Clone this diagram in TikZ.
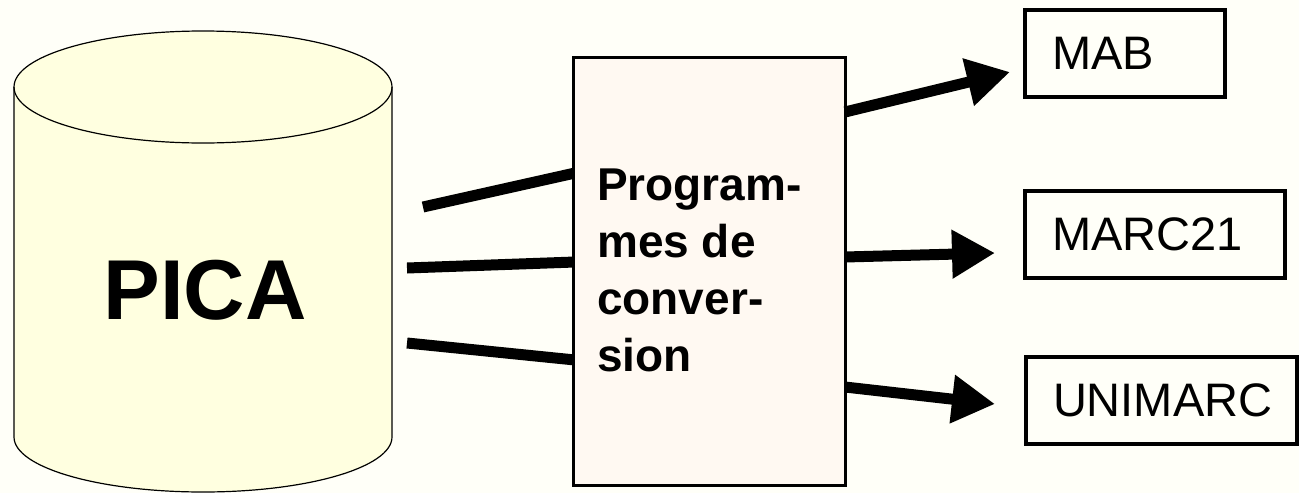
\documentclass[tikz,border=0pt]{standalone}
\usepackage{fontspec}
\setmainfont{Liberation Sans}
\usetikzlibrary{arrows.meta}
\definecolor{bgc}{RGB}{255,255,248}
\definecolor{cylc}{RGB}{255,255,224}
\definecolor{progc}{RGB}{255,249,242}
\tikzset{
  link/.style={line width=11pt},
  outarrow/.style={line width=11pt,-{Triangle[length=43pt,width=46pt]}},
  outbox/.style={draw=black,line width=3.5pt,fill=bgc,minimum height=87pt,inner xsep=27pt,align=left,
     font=\fontsize{47}{52}\selectfont},
  progbox/.style={draw=black,line width=3pt,fill=progc,minimum width=272pt,minimum height=428pt,inner sep=0pt},
}
\begin{document}
\begin{tikzpicture}[x=1pt,y=1pt]
\useasboundingbox (0,0) rectangle (1299,-493);
\fill[bgc] (0,0) rectangle (1299,-493);
% cylinder
\fill[cylc] (14,-87) -- (14,-437) arc[start angle=180,end angle=360,x radius=189,y radius=55]
  -- (392,-87) arc[start angle=0,end angle=180,x radius=189,y radius=56] -- cycle;
\draw[line width=1.2pt] (14,-87) -- (14,-437) arc[start angle=180,end angle=360,x radius=189,y radius=55] -- (392,-87);
\draw[line width=1.2pt] (203,-87) ellipse[x radius=189,y radius=56];
\node[font=\fontsize{85}{100}\selectfont\bfseries] (pica) at (205,-290) {PICA};
% input links
\coordinate (l1) at (423,-207);
\coordinate (l2) at (407,-268);
\coordinate (l3) at (407,-343);
\coordinate (i1) at (575,-173);
\coordinate (i2) at (575,-262);
\coordinate (i3) at (575,-360);
\draw[link] (l1) -- (i1);
\draw[link] (l2) -- (i2);
\draw[link] (l3) -- (i3);
% conversion box
\node[progbox] (prog) at (709,-271) {};
\node[anchor=north west,inner sep=0pt,align=left,font=\fontsize{46}{57}\selectfont\bfseries] (progtext) at (597,-169)
  {Program-\\mes de\\conver-\\sion};
% outputs
\node[outbox,text width=146pt] (mab) at (1125,-53.5) {MAB};
\node[outbox,text width=206pt] (marc) at (1155,-234.5) {MARC21};
\node[outbox,text width=217pt] (uni) at (1161.5,-400.5) {UNIMARC};
\coordinate (o1) at (845,-112);
\coordinate (o2) at (845,-257);
\coordinate (o3) at (845,-387);
\coordinate (t1) at (1010,-72);
\coordinate (t2) at (995,-253);
\coordinate (t3) at (995,-404);
\draw[outarrow] (o1) -- (t1);
\draw[outarrow] (o2) -- (t2);
\draw[outarrow] (o3) -- (t3);
\end{tikzpicture}
\end{document}
